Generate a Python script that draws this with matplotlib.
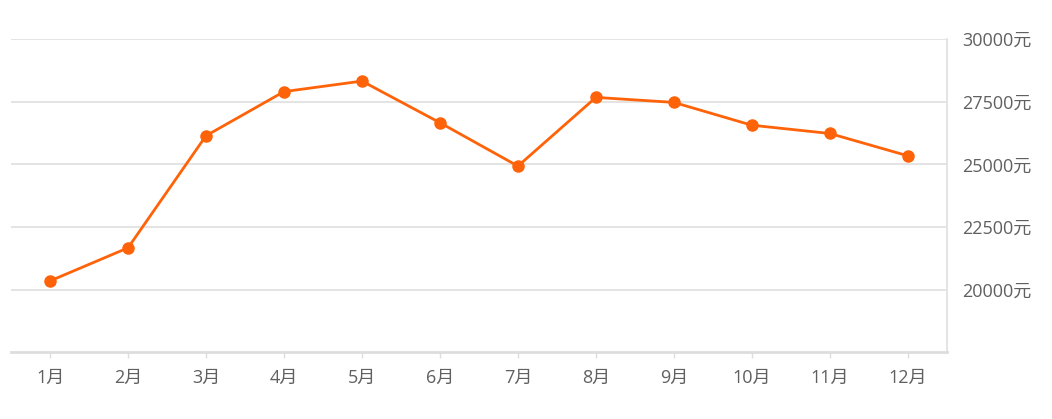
import matplotlib
matplotlib.use("Agg")
import matplotlib.pyplot as plt

plt.rcParams['font.family'] = ['Open Sans', 'Noto Sans CJK SC', 'DejaVu Sans']

months = ["1月", "2月", "3月", "4月", "5月", "6月",
          "7月", "8月", "9月", "10月", "11月", "12月"]
prices = [20350, 21670, 26140, 27900, 28320, 26660,
          24930, 27670, 27470, 26560, 26230, 25340]
y_ticks = [20000, 22500, 25000, 27500, 30000]
y_labels = ["20000元", "22500元", "25000元", "27500元", "30000元"]

fig = plt.figure(figsize=(10.52, 4.19), dpi=100)
ax = fig.add_axes([0.0105, 0.159, 0.8895, 0.748])

x = list(range(len(months)))
ax.plot(x, prices, color="#ff6309", linewidth=2, marker="o",
        markersize=8, zorder=3)

ax.set_xlim(-0.5, len(months) - 0.5)
ax.set_ylim(17500, 30000)

ax.set_yticks(y_ticks)
ax.set_yticklabels(y_labels)
ax.yaxis.tick_right()
ax.tick_params(axis="y", length=0, pad=11, labelsize=13, labelcolor="#606060")

ax.set_xticks(x)
ax.set_xticklabels(months)
ax.tick_params(axis="x", length=4, width=1, color="#dddddd", pad=8,
               labelsize=13, labelcolor="#606060")

ax.grid(axis="y", color="#e2e2e2", linewidth=1.3)
ax.set_axisbelow(True)

for side in ["top", "left"]:
    ax.spines[side].set_visible(False)
ax.spines["bottom"].set_color("#dddddd")
ax.spines["bottom"].set_linewidth(2)
ax.spines["right"].set_color("#e2e2e2")
ax.spines["right"].set_linewidth(1.3)

fig.savefig("out.png", dpi=100)
